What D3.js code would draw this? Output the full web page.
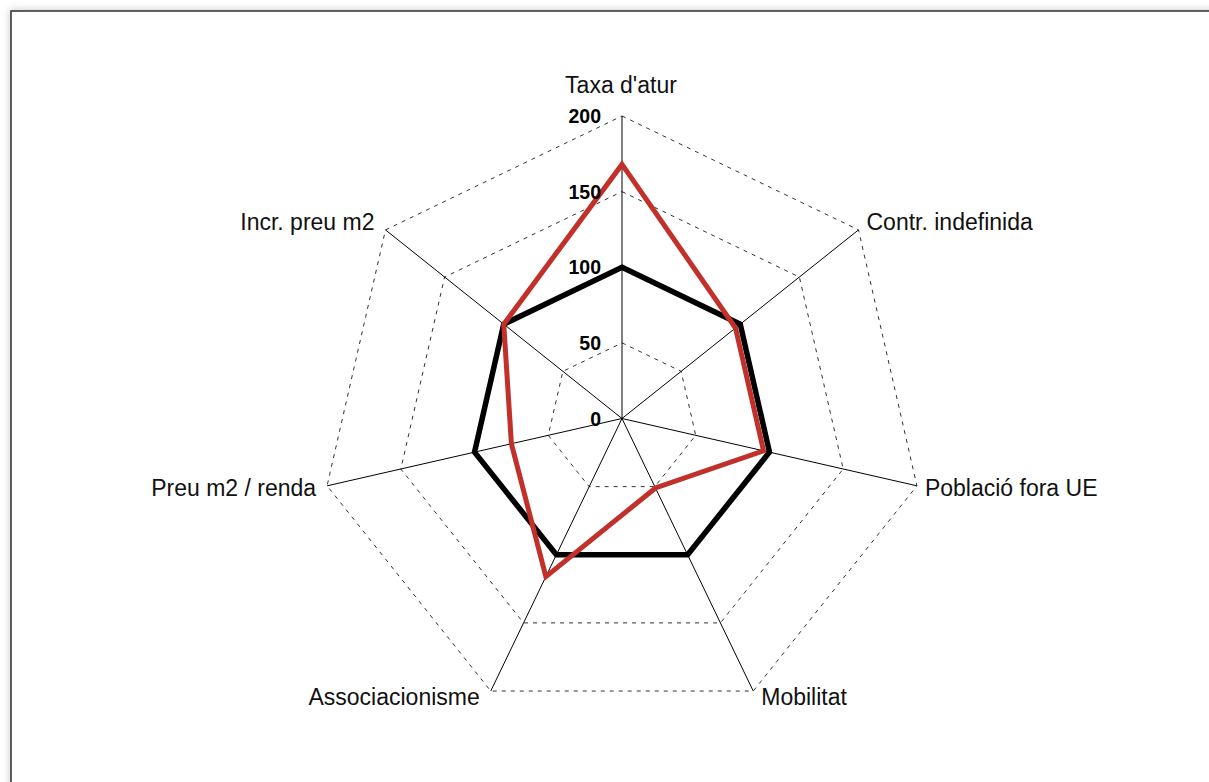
<!DOCTYPE html>
<html>
<head>
<meta charset="utf-8">
<script src="https://cdn.jsdelivr.net/npm/d3@7"></script>
<style>
  body { margin: 0; background: #fff; }
  svg { display: block; }
  text { font-family: "Liberation Sans", Arial, Helvetica, sans-serif; }
</style>
</head>
<body>
<div class="radar"></div>
<script>
var categories = ["Taxa d'atur", "Contr. indefinida", "Població fora UE", "Mobilitat",
                  "Associacionisme", "Preu m2 / renda", "Incr. preu m2"];
var referencia = [100, 100, 100, 100, 100, 100, 100];
var barri = [168, 96, 96, 51, 116, 75, 100];
var ticks = [0, 50, 100, 150, 200];
var tickLabels = ["0", "50", "100", "150", "200"];
var gridLevels = [50, 100, 150, 200];

var width = 1209, height = 782;
var cx = 622, cy = 418.5;
var n = categories.length;
var step = 2 * Math.PI / n;

var svg = d3.select(".radar")
            .append("svg")
            .attr("width", width)
            .attr("height", height);

// frame with soft shadow (only top/left edges are inside the view)
var defs = svg.append("defs");
var f = defs.append("filter").attr("id", "shadow")
    .attr("x", "-5%").attr("y", "-5%").attr("width", "110%").attr("height", "110%");
f.append("feDropShadow").attr("dx", 0).attr("dy", 0)
    .attr("stdDeviation", 4).attr("flood-color", "#000").attr("flood-opacity", 0.22);

svg.append("rect")
    .attr("x", 11).attr("y", 11)
    .attr("width", 1400).attr("height", 1000)
    .attr("fill", "#fff")
    .attr("stroke", "#3a3a3a")
    .attr("stroke-width", 1.6)
    .attr("filter", "url(#shadow)");

var r = d3.scaleLinear().domain([0, 200]).range([0, 302.5]);

var g = svg.append("g").attr("transform", "translate(" + cx + "," + cy + ")");

function pt(i, v) {
  var a = i * step;
  return [r(v) * Math.sin(a), -r(v) * Math.cos(a)];
}

var radial = d3.lineRadial()
    .angle(function(d, i) { return i * step; })
    .radius(function(d) { return r(d); })
    .curve(d3.curveLinearClosed);

// dashed rings
g.selectAll(".ring")
    .data(gridLevels)
  .enter().append("path")
    .attr("class", "ring")
    .attr("d", function(l) { return radial(categories.map(function() { return l; })); })
    .attr("fill", "none")
    .attr("stroke", "#333")
    .attr("stroke-width", 1)
    .attr("stroke-dasharray", "4,5");

// spokes
g.selectAll(".spoke")
    .data(categories)
  .enter().append("line")
    .attr("class", "spoke")
    .attr("x1", 0).attr("y1", 0)
    .attr("x2", function(d, i) { return pt(i, 200)[0]; })
    .attr("y2", function(d, i) { return pt(i, 200)[1]; })
    .attr("stroke", "#000")
    .attr("stroke-width", 1);

// series
g.append("path")
    .attr("d", radial(referencia))
    .attr("fill", "none")
    .attr("stroke", "#000")
    .attr("stroke-width", 5.5)
    .attr("stroke-linejoin", "miter");

g.append("path")
    .attr("d", radial(barri))
    .attr("fill", "none")
    .attr("stroke", "#c2302a")
    .attr("stroke-width", 5)
    .attr("stroke-linejoin", "miter");

// scale labels
g.selectAll(".tick")
    .data(ticks)
  .enter().append("text")
    .attr("class", "tick")
    .attr("x", -21)
    .attr("y", function(d) { return -r(d); })
    .attr("dy", "0.36em")
    .attr("text-anchor", "end")
    .attr("font-size", 19.5)
    .attr("font-weight", "bold")
    .text(function(d, i) { return tickLabels[i]; });

// category labels
g.selectAll(".cat")
    .data(categories)
  .enter().append("text")
    .attr("class", "cat")
    .attr("font-size", 23)
    .attr("fill", "#111")
    .attr("text-anchor", function(d, i) {
      var s = Math.sin(i * step);
      if (Math.abs(s) < 0.1) return "middle";
      return s > 0 ? "start" : "end";
    })
    .attr("x", function(d, i) {
      var p = pt(i, 200), s = Math.sin(i * step);
      if (Math.abs(s) < 0.1) return p[0] - 1;
      return p[0] + (s > 0 ? 8 : -11);
    })
    .attr("y", function(d, i) {
      var p = pt(i, 200), s = Math.sin(i * step), c = Math.cos(i * step);
      if (Math.abs(s) < 0.1) return p[1] - 23;
      if (c < -0.5) return p[1] + 6;
      return p[1] - 12 * c;
    })
    .attr("dy", function(d, i) {
      return Math.abs(Math.sin(i * step)) < 0.1 ? 0 : "0.34em";
    })
    .text(function(d) { return d; });
</script>
</body>
</html>
